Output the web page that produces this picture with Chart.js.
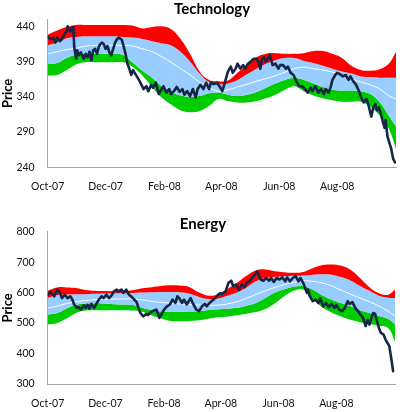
<!DOCTYPE html>
<html>
<head>
<meta charset="utf-8">
<title>Technology / Energy price bands</title>
<script src="https://cdn.jsdelivr.net/npm/chart.js@4.4.1/dist/chart.umd.min.js"></script>
<style>
    html, body { margin: 0; padding: 0; background: #fff; }
    canvas { display: block; }
</style>
</head>
<body>
<canvas id="techChart" width="400" height="200"></canvas>
<canvas id="energyChart" width="400" height="212"></canvas>
<script>
// x = days since 1 Oct 2007
const tickDays = [0, 61, 123, 183, 244, 305];
const tickLabels = ['Oct-07', 'Dec-07', 'Feb-08', 'Apr-08', 'Jun-08', 'Aug-08'];
const techTicks = [240, 290, 340, 390, 440];
const energyTicks = [300, 400, 500, 600, 700, 800];

// band curves, sampled every 10 days
const bandDays = [0, 10, 20, 30, 40, 50, 60, 70, 80, 90, 100, 110, 120, 130, 140, 150, 160, 170, 180, 190,
    200, 210, 220, 230, 240, 250, 260, 270, 280, 290, 300, 310, 320, 330, 340, 350, 360, 367];

const techUpper2 = [428, 434, 439, 442, 442, 442, 442, 442, 442, 441, 437, 439, 440, 436, 422, 401, 376, 364, 362, 363,
    374, 385, 396, 401, 402, 401, 401, 402, 405, 405, 401, 395, 384, 378, 377, 379, 388, 404];
const techUpper1 = [413, 417, 423, 425, 426, 426, 426, 426, 425, 424, 422, 419, 416, 413, 404, 390, 373, 361, 358, 359,
    364, 372, 380, 387, 392, 395, 395, 391, 388, 384, 380, 376, 373, 369, 368, 367, 367, 367];
const techMid = [401, 404, 407, 409, 412, 413, 413, 413, 413, 412, 408, 404, 397, 389, 380, 371, 361, 353, 348, 350,
    354, 358, 362, 366, 370, 375, 380, 382, 380, 378, 375, 371, 366, 361, 357, 351, 341, 337];
const techLower1 = [387, 388, 395, 400, 401, 401, 401, 401, 399, 388, 377, 367, 355, 347, 342, 340, 341, 345, 346, 343,
    341, 343, 347, 353, 359, 364, 367, 364, 359, 354, 350, 349, 349, 348, 344, 332, 312, 298];
const techLower2 = [370, 371, 378, 386, 389, 389, 389, 389, 389, 382, 370, 354, 339, 329, 321, 318, 320, 327, 337, 334,
    332, 332, 334, 338, 343, 350, 355, 348, 342, 338, 335, 333, 333, 333, 326, 313, 293, 266];

const energyUpper2 = [606, 617, 617, 615, 609, 606, 605, 605, 606, 608, 614, 618, 622, 624, 623, 618, 600, 590, 595, 612,
    632, 655, 673, 676, 670, 667, 665, 668, 680, 690, 692, 688, 675, 648, 618, 598, 593, 610];
const energyUpper1 = [582, 592, 594, 595, 595, 596, 597, 598, 598, 599, 600, 601, 602, 602, 601, 596, 586, 579, 581, 590,
    600, 617, 637, 648, 652, 654, 655, 656, 659, 660, 659, 651, 640, 622, 606, 590, 583, 582];
const energyMid = [549, 556, 564, 570, 574, 577, 578, 579, 579, 579, 576, 571, 568, 566, 563, 560, 559, 558, 559, 563,
    570, 581, 594, 606, 617, 626, 634, 639, 637, 632, 622, 608, 595, 582, 570, 556, 538, 524];
const energyLower1 = [528, 533, 548, 560, 564, 565, 564, 562, 561, 559, 550, 542, 538, 537, 537, 538, 539, 543, 545, 547,
    550, 557, 566, 582, 600, 611, 619, 621, 610, 591, 577, 566, 555, 542, 533, 523, 513, 495];
const energyLower2 = [495, 500, 515, 533, 541, 542, 542, 542, 542, 541, 537, 525, 515, 507, 506, 507, 509, 514, 519, 522,
    526, 531, 536, 546, 565, 588, 606, 610, 580, 552, 535, 522, 511, 503, 497, 491, 483, 440];

// price lines
const techDays = [0, 3, 6, 8, 10, 13, 15, 18, 20, 21,
    24, 26, 27, 28, 30, 31, 33, 35, 38, 40,
    42, 44, 46, 48, 50, 52, 54, 57, 59, 61,
    63, 65, 67, 69, 71, 73, 75, 78, 80, 82,
    84, 86, 88, 90, 92, 94, 97, 101, 104, 106,
    109, 111, 114, 117, 120, 122, 125, 128, 130, 133,
    136, 139, 142, 144, 147, 150, 153, 156, 158, 161,
    164, 167, 170, 172, 175, 178, 181, 184, 187, 190,
    193, 195, 198, 200, 203, 206, 208, 211, 214, 217,
    220, 222, 224, 226, 228, 230, 232, 234, 237, 240,
    243, 245, 248, 251, 253, 256, 259, 262, 265, 268,
    271, 274, 277, 279, 282, 285, 288, 291, 293, 296,
    298, 300, 303, 305, 308, 311, 314, 317, 319, 322,
    325, 328, 331, 333, 336, 338, 341, 343, 345, 347,
    349, 351, 353, 355, 356, 358, 360, 362, 364, 366];
const techPrice = [425, 422, 424, 417, 424, 419, 422, 430, 433, 440,
    433, 438, 439, 410, 394, 406, 399, 403, 394, 401,
    396, 404, 392, 406, 408, 401, 412, 417, 415, 408,
    412, 403, 399, 408, 417, 422, 424, 421, 412, 401,
    387, 380, 371, 378, 373, 369, 362, 351, 355, 348,
    357, 353, 360, 344, 351, 355, 346, 351, 344, 348,
    354, 347, 351, 343, 348, 341, 351, 339, 351, 357,
    351, 360, 351, 360, 358, 360, 355, 348, 362, 376,
    383, 374, 380, 387, 380, 385, 380, 387, 390, 394,
    394, 390, 380, 394, 396, 390, 394, 399, 385, 387,
    380, 385, 385, 380, 383, 374, 371, 362, 355, 355,
    351, 346, 353, 348, 355, 346, 351, 344, 351, 346,
    353, 364, 371, 374, 372, 369, 371, 364, 369, 362,
    357, 348, 337, 332, 337, 328, 312, 325, 330, 321,
    325, 316, 305, 296, 307, 284, 275, 266, 252, 247];

const energyDays = [0, 3, 7, 10, 13, 15, 18, 21, 24, 26,
    28, 31, 33, 35, 38, 40, 42, 44, 46, 49,
    52, 54, 57, 59, 62, 65, 68, 70, 73, 75,
    78, 80, 83, 86, 88, 90, 94, 96, 98, 101,
    104, 106, 109, 112, 115, 118, 121, 123, 126, 129,
    132, 135, 137, 139, 142, 144, 147, 149, 151, 154,
    157, 160, 163, 166, 168, 171, 174, 177, 180, 182,
    184, 188, 191, 194, 196, 199, 202, 205, 208, 210,
    213, 216, 219, 221, 223, 225, 228, 231, 234, 236,
    239, 242, 245, 248, 251, 253, 256, 259, 262, 265,
    267, 270, 272, 274, 275, 277, 280, 283, 286, 288,
    291, 294, 297, 300, 303, 305, 308, 311, 314, 317,
    319, 322, 325, 328, 331, 333, 336, 338, 340, 342,
    344, 346, 348, 350, 352, 355, 357, 359, 361, 363,
    365];
const energyPrice = [593, 602, 588, 610, 599, 582, 593, 582, 588, 577,
    561, 550, 552, 544, 558, 550, 560, 547, 563, 550,
    566, 577, 588, 582, 593, 582, 593, 604, 610, 604,
    610, 599, 610, 593, 588, 582, 569, 550, 533, 522,
    530, 526, 536, 541, 544, 517, 533, 544, 555, 561,
    577, 566, 588, 582, 566, 577, 561, 572, 582, 561,
    544, 539, 555, 563, 555, 566, 574, 582, 593, 598,
    595, 604, 632, 639, 621, 626, 610, 626, 618, 632,
    637, 648, 659, 670, 659, 643, 639, 648, 639, 648,
    635, 648, 643, 650, 637, 650, 637, 648, 654, 637,
    648, 632, 615, 599, 610, 588, 572, 577, 566, 582,
    555, 566, 552, 563, 550, 559, 544, 539, 550, 572,
    563, 569, 550, 539, 526, 519, 490, 511, 495, 517,
    533, 530, 506, 484, 468, 462, 446, 435, 424, 385,
    342];

const RED = '#FF0000';
const BLUE = '#99CCFF';
const GREEN = '#00CC00';
const NAVY = '#162645';

function pts(xs, ys) {
    return xs.map((x, i) => ({ x: x, y: ys[i] }));
}

// title drawn by hand so it can sit off-centre like the original
const panelTitle = {
    id: 'panelTitle',
    afterDraw(chart, args, opts) {
        const ctx = chart.ctx;
        ctx.save();
        ctx.font = 'bold 15px Lato';
        ctx.fillStyle = '#000';
        ctx.textAlign = 'center';
        ctx.textBaseline = 'alphabetic';
        ctx.fillText(opts.text, opts.x, opts.y);
        ctx.restore();
    }
};

function makeChart(id, p) {
    const tickFont = { family: 'Lato', size: 10.5 };
    return new Chart(document.getElementById(id), {
        type: 'line',
        data: {
            datasets: [
                { data: pts(bandDays, p.upper2), fill: { target: 1 }, backgroundColor: RED, borderColor: 'transparent', borderWidth: 0, order: 3 },
                { data: pts(bandDays, p.upper1), fill: { target: 3 }, backgroundColor: BLUE, borderColor: 'transparent', borderWidth: 0, order: 4 },
                { data: pts(bandDays, p.mid), fill: false, borderColor: '#FFFFFF', borderWidth: 1, order: 1 },
                { data: pts(bandDays, p.lower1), fill: { target: 4 }, backgroundColor: GREEN, borderColor: 'transparent', borderWidth: 0, order: 5 },
                { data: pts(bandDays, p.lower2), fill: false, borderColor: 'transparent', borderWidth: 0, order: 6 },
                { data: pts(p.days, p.price), fill: false, borderColor: NAVY, borderWidth: 2.6, tension: 0, order: 0 }
            ]
        },
        options: {
            responsive: false,
            animation: false,
            layout: { padding: { top: p.top, right: p.right, left: 0, bottom: 0 } },
            elements: {
                point: { radius: 0 },
                line: { tension: 0.4, borderJoinStyle: 'round', borderCapStyle: 'round' }
            },
            plugins: {
                legend: { display: false },
                tooltip: { enabled: false },
                panelTitle: p.title
            },
            scales: {
                x: {
                    type: 'linear', min: 0, max: 367,
                    grid: { display: false, drawTicks: false },
                    border: { display: true, color: '#A6A6A6', width: 1 },
                    afterBuildTicks: s => { s.ticks = tickDays.map(v => ({ value: v })); },
                    afterFit: s => { s.height = p.xHeight; },
                    ticks: {
                        padding: 13, maxRotation: 0, autoSkip: false, color: '#111', font: tickFont,
                        callback: (v, i) => tickLabels[i]
                    }
                },
                y: {
                    min: p.min, max: p.max,
                    grid: { display: false, drawTicks: false },
                    border: { display: true, color: '#A6A6A6', width: 1 },
                    afterBuildTicks: s => { s.ticks = p.ticks.map(v => ({ value: v })); },
                    afterFit: s => { s.width = 47.7; },
                    ticks: { padding: 13, color: '#111', font: tickFont },
                    title: {
                        display: true, text: 'Price', color: '#000',
                        font: { family: 'Lato', size: 13, weight: 'bold' },
                        padding: { top: 0, bottom: 0 }
                    }
                }
            }
        },
        plugins: [panelTitle]
    });
}

makeChart('techChart', {
    upper2: techUpper2, upper1: techUpper1, mid: techMid, lower1: techLower1, lower2: techLower2,
    days: techDays, price: techPrice,
    min: 240, max: 450, ticks: techTicks,
    top: 15, right: 4, xHeight: 32.7,
    title: { text: 'Technology', x: 212, y: 14 }
});

makeChart('energyChart', {
    upper2: energyUpper2, upper1: energyUpper1, mid: energyMid, lower1: energyLower1, lower2: energyLower2,
    days: energyDays, price: energyPrice,
    min: 300, max: 800, ticks: energyTicks,
    top: 31.7, right: 5, xHeight: 28,
    title: { text: 'Energy', x: 203, y: 29 }
});
</script>
</body>
</html>
